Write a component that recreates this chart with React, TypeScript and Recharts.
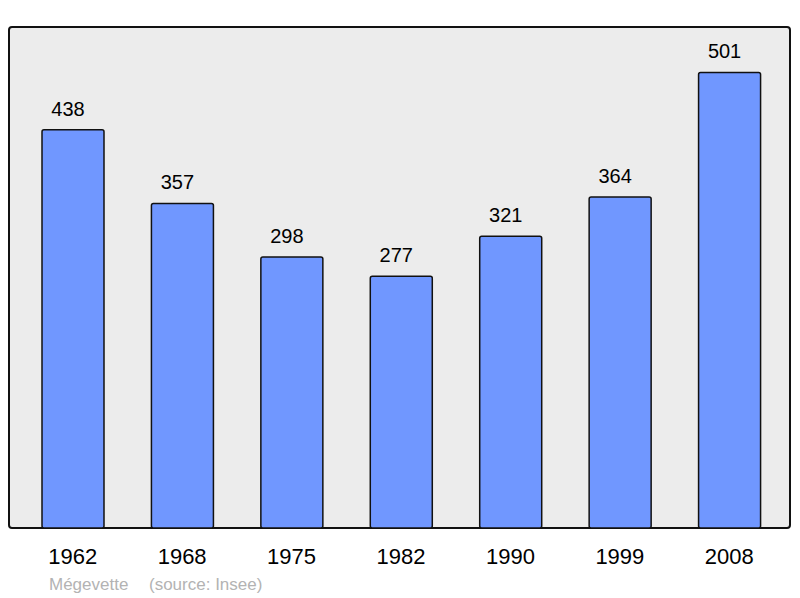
import { BarChart, Bar, XAxis, YAxis, LabelList } from "recharts";

const years = ["1962", "1968", "1975", "1982", "1990", "1999", "2008"];
const population = [438, 357, 298, 277, 321, 364, 501];
const commune = "Mégevette";
const source = "(source: Insee)";

const data = years.map((year, i) => ({ year, pop: population[i] }));

const font = "'Liberation Sans', Arial, sans-serif";

export default function App() {
  return (
    <div style={{ position: "absolute", left: 0, top: 0, width: 800, height: 598, fontFamily: font }}>
      {/* framed grey plot background */}
      <div
        style={{
          position: "absolute",
          left: 8,
          top: 26,
          width: 783,
          height: 503,
          boxSizing: "border-box",
          border: "2px solid #111",
          borderRadius: 4,
          background: "#ececec",
        }}
      />
      <div style={{ position: "absolute", left: 0, top: 0 }}>
        <BarChart
          width={800}
          height={598}
          data={data}
          margin={{ top: 27, right: 10, bottom: 30, left: 9 }}
        >
          <XAxis
            dataKey="year"
            axisLine={false}
            tickLine={false}
            tickSize={0}
            tickMargin={20}
            height={40}
            padding={{ left: 9, right: 6 }}
            tick={{ fontSize: 22, fill: "#000", fontFamily: font }}
          />
          <YAxis hide domain={[0, 551]} />
          <Bar
            dataKey="pop"
            fill="#7097ff"
            stroke="#111"
            strokeWidth={1.5}
            radius={2}
            barSize={62}
            isAnimationActive={false}
          >
            <LabelList
              dataKey="pop"
              position="top"
              offset={14}
              dx={-5}
              style={{ fontSize: 20, fill: "#000", fontFamily: font }}
            />
          </Bar>
        </BarChart>
      </div>
      <div style={{ position: "absolute", left: 49, top: 575, fontSize: 17, color: "#b3b3b3" }}>{commune}</div>
      <div style={{ position: "absolute", left: 149, top: 575, fontSize: 17, color: "#b3b3b3" }}>{source}</div>
    </div>
  );
}
